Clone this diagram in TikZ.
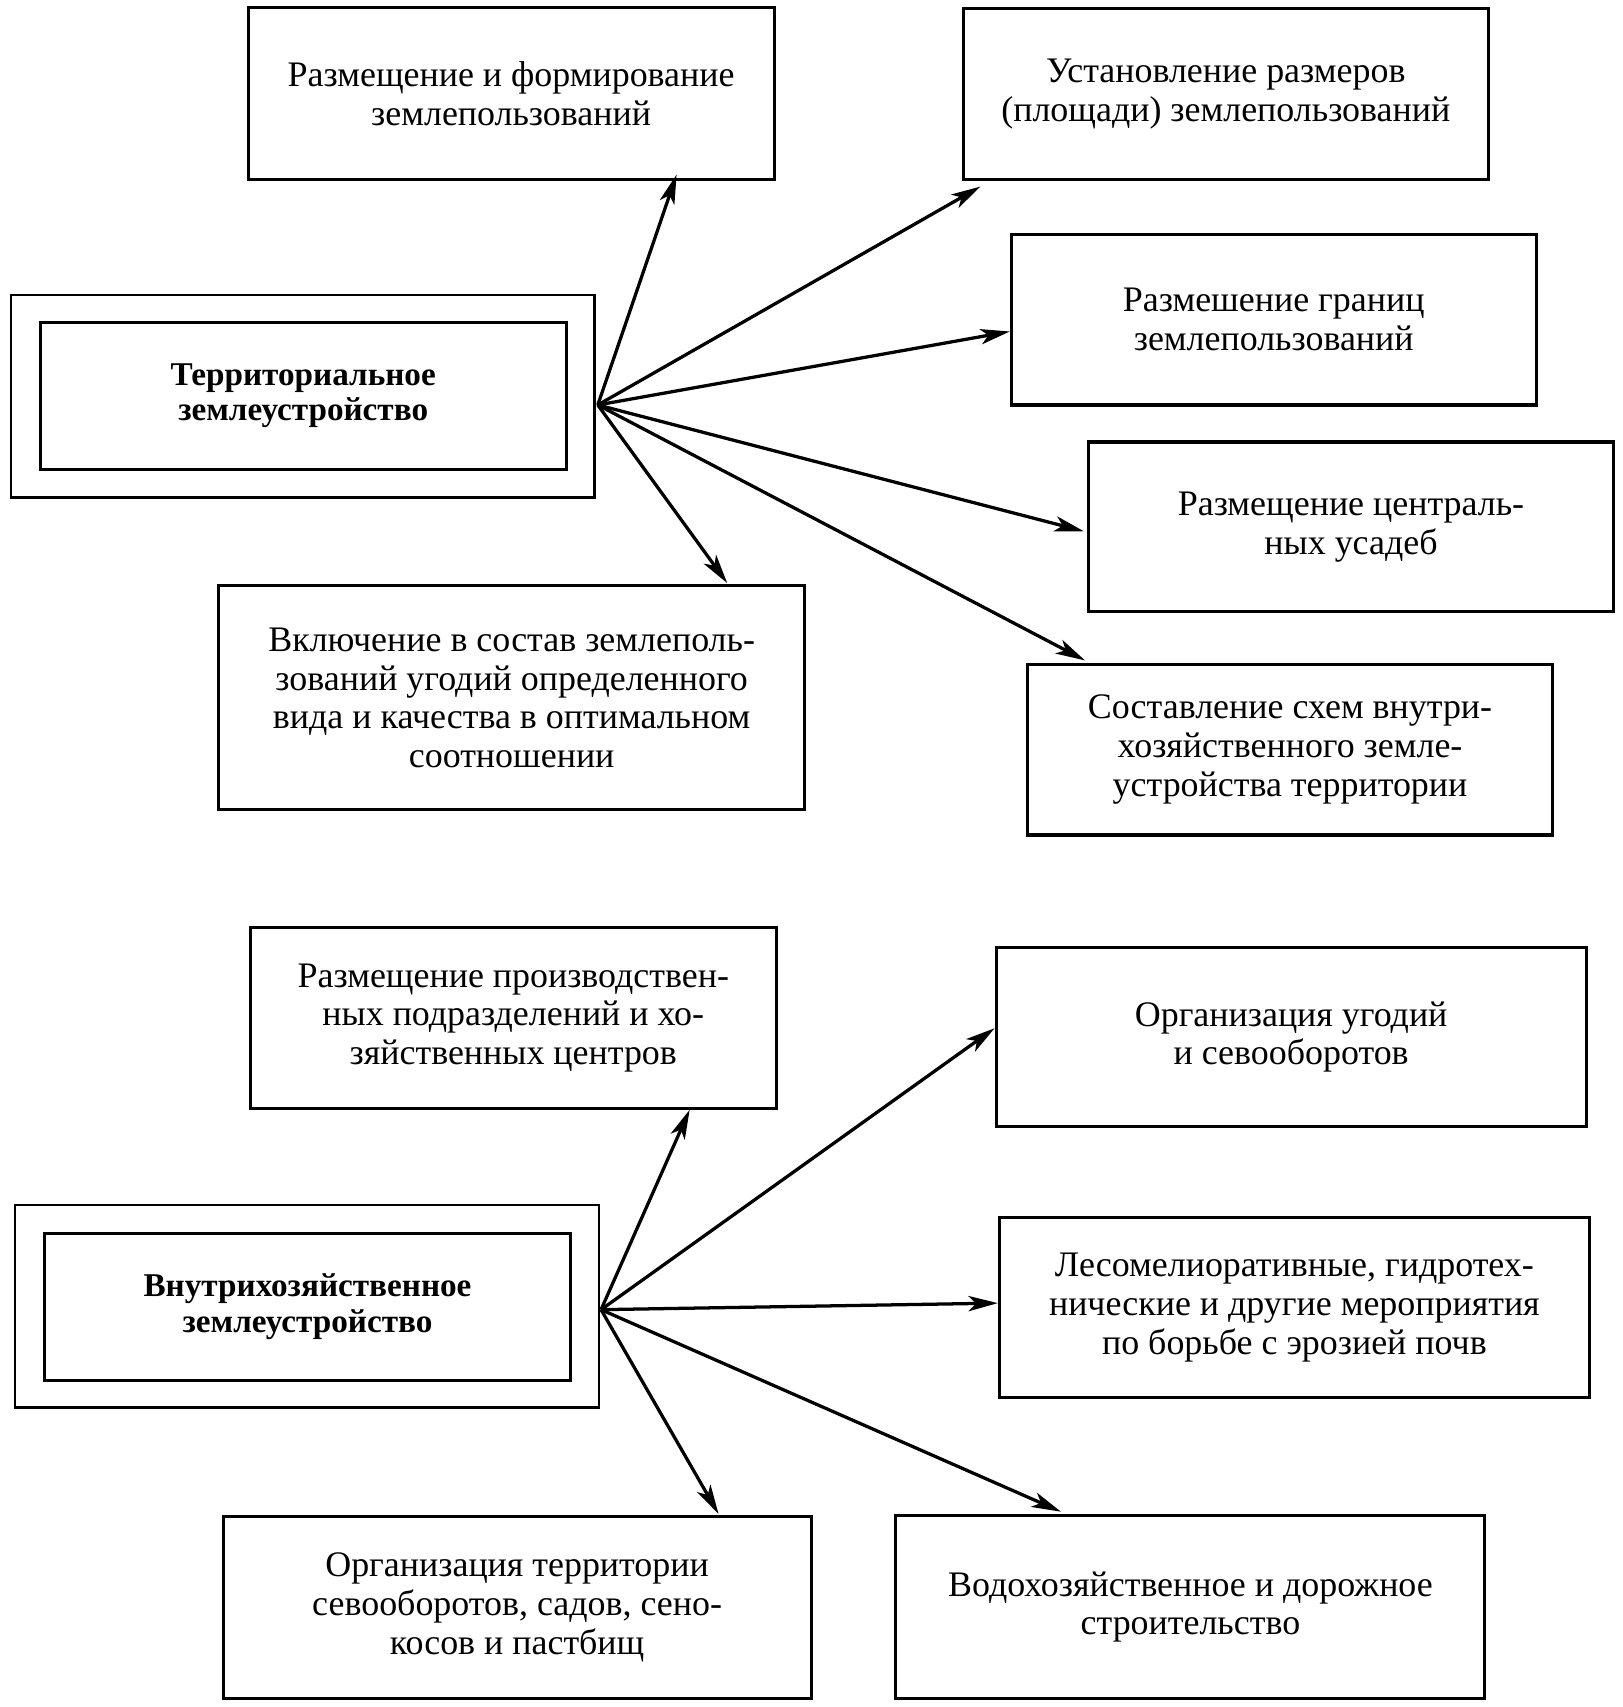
\documentclass[tikz,border=0pt]{standalone}
\usepackage{fontspec}
\setmainfont{Liberation Serif}
\usetikzlibrary{arrows.meta,calc}
\begin{document}
\begin{tikzpicture}[x=1pt,y=-1pt,
  box/.style={draw,line width=2.8pt,align=center,inner sep=0pt,
    font=\fontsize{33}{35.5}\selectfont},
  outerbox/.style={draw,line width=2.2pt,inner sep=0pt},
  mainbox/.style={draw,line width=2.9pt,align=center,inner sep=0pt,
    font=\fontsize{30.5}{33}\selectfont\bfseries},
  conn/.style={line width=3pt,-{Stealth[length=27pt,width=14pt,inset=7pt]}}]
\useasboundingbox (0,0) rectangle (1490,1568);
% top group
\node[outerbox,minimum width=536pt,minimum height=186pt] (M1o) at (278,364) {};
\node[mainbox,minimum width=483pt,minimum height=135pt] (M1) at (278.5,363.5) {Территориальное\\землеустройство};
\node[box,minimum width=483pt,minimum height=158pt] (A) at (469.5,86) {Размещение и формирование\\землепользований};
\node[box,minimum width=482pt,minimum height=157pt] (B) at (1126,86.5) {Установление размеров\\(площади) землепользований};
\node[box,minimum width=482pt,minimum height=157pt] (C) at (1170,293.5) {Размешение границ\\землепользований};
\node[box,minimum width=482pt,minimum height=156pt] (D) at (1241,484) {Размещение централь-\\ных усадеб};
\node[box,minimum width=482pt,minimum height=157pt] (E) at (1185,688.5) {Составление схем внутри-\\хозяйственного земле-\\устройства территории};
\node[box,minimum width=538pt,minimum height=206pt] (F) at (470,641) {Включение в состав землеполь-\\зований угодий определенного\\вида и качества в оптимальном\\соотношении};
\coordinate (h1) at ($(M1o.east)+(2pt,-8pt)$);
\draw[conn] (h1) -- ([xshift=152pt,yshift=6pt]A.south);
\draw[conn] (h1) -- ([xshift=17pt,yshift=-5pt]B.south west);
\draw[conn] (h1) -- ([yshift=-11pt]C.west);
\draw[conn] (h1) -- ([xshift=-3pt,yshift=-4pt]D.west);
\draw[conn] (h1) -- ([xshift=54pt,yshift=2pt]E.north west);
\draw[conn] (h1) -- ([xshift=198pt,yshift=1pt]F.north);
% bottom group
\node[outerbox,minimum width=536pt,minimum height=186pt] (M2o) at (282,1200) {};
\node[mainbox,minimum width=483pt,minimum height=135pt] (M2) at (282.5,1200.5) {Внутрихозяйственное\\землеустройство};
\node[box,minimum width=483pt,minimum height=166pt] (G) at (471.5,935) {Размещение производствен-\\ных подразделений и хо-\\зяйственных центров};
\node[box,minimum width=542pt,minimum height=165pt] (H) at (1186,952.5) {Организация угодий\\и севооборотов};
\node[box,minimum width=542pt,minimum height=166pt] (I) at (1189,1201) {Лесомелиоративные, гидротех-\\нические и другие мероприятия\\по борьбе с эрозией почв};
\node[box,minimum width=541pt,minimum height=168pt] (J) at (1093.5,1476) {Водохозяйственное и дорожное\\строительство};
\node[box,minimum width=540pt,minimum height=167pt] (K) at (475,1476.5) {Организация территории\\севооборотов, садов, сено-\\косов и пастбищ};
\coordinate (h2) at ($(M2o.east)+(1pt,-3pt)$);
\draw[conn] (h2) -- ([xshift=162pt]G.south);
\draw[conn] (h2) -- ([yshift=8pt]H.west);
\draw[conn] (h2) -- ([yshift=4pt]I.west);
\draw[conn] (h2) -- ([xshift=153pt,yshift=2pt]J.north west);
\draw[conn] (h2) -- ([xshift=185pt,yshift=1pt]K.north);
\end{tikzpicture}
\end{document}
